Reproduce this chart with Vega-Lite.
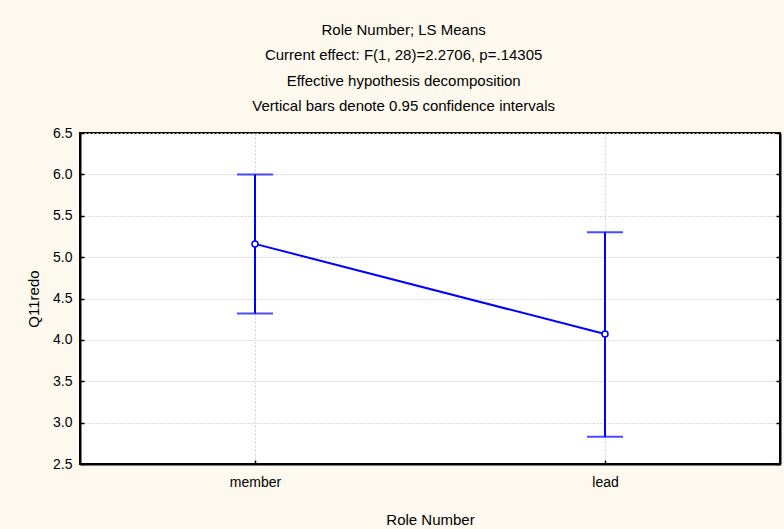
{
  "$schema": "https://vega.github.io/schema/vega-lite/v6.json",
  "width": 700,
  "height": 331,
  "autosize": {"type": "none"},
  "padding": {"left": 80, "top": 133, "right": 4, "bottom": 65},
  "background": "#fdf9ee",
  "config": {
    "font": "Liberation Sans",
    "view": {"stroke": "black", "strokeWidth": 2, "fill": "white"}
  },
  "title": {
    "text": [
      "Role Number; LS Means",
      "Current effect: F(1, 28)=2.2706, p=.14305",
      "Effective hypothesis decomposition",
      "Vertical bars denote 0.95 confidence intervals"
    ],
    "fontSize": 15,
    "fontWeight": "normal",
    "lineHeight": 25.5,
    "anchor": "middle",
    "frame": "bounds",
    "color": "black",
    "offset": 12
  },
  "data": {
    "values": [
      {"role": "member", "mean": 5.16, "lo": 4.32, "hi": 6.0},
      {"role": "lead", "mean": 4.07, "lo": 2.83, "hi": 5.3}
    ]
  },
  "encoding": {
    "x": {
      "field": "role",
      "type": "nominal",
      "sort": ["member", "lead"],
      "scale": {"type": "point", "padding": 0.5},
      "axis": {
        "title": "Role Number",
        "titleFontSize": 15,
        "titleFontWeight": "normal",
        "titleColor": "black",
        "titlePadding": 23,
        "labelFontSize": 14,
        "labelColor": "black",
        "labelAngle": 0,
        "labelPadding": 15,
        "domainColor": "black",
        "domainWidth": 2,
        "tickColor": "black",
        "tickSize": -4,
        "tickWidth": 1.5,
        "grid": true,
        "gridColor": "#cfcfcf",
        "gridDash": [2, 2],
        "gridWidth": 1
      }
    }
  },
  "resolve": {"axis": {"y": "independent"}},
  "layer": [
    {
      "mark": {"type": "rule", "color": "#0000ff", "strokeWidth": 2},
      "encoding": {
        "y": {
          "field": "lo",
          "type": "quantitative",
          "scale": {"domain": [2.5, 6.5], "nice": false, "zero": false},
          "axis": {
            "orient": "left",
            "title": "Q11redo",
            "titleFontSize": 15,
            "titleFontWeight": "normal",
            "titleColor": "black",
            "titlePadding": 11,
            "values": [2.5, 3, 3.5, 4, 4.5, 5, 5.5, 6, 6.5],
            "format": ".1f",
            "labelFontSize": 14,
            "labelColor": "black",
            "labelPadding": 12,
            "domainColor": "black",
            "domainWidth": 2,
            "tickColor": "black",
            "tickSize": -4,
            "tickWidth": 1.5,
            "grid": true,
            "gridColor": "#cfcfcf",
            "gridDash": [2, 2],
            "gridWidth": 1
          }
        },
        "y2": {"field": "hi"}
      }
    },
    {
      "mark": {"type": "tick", "color": "#0000ff", "thickness": 2, "size": 36},
      "encoding": {
        "y": {
          "field": "lo",
          "type": "quantitative",
          "axis": {
            "orient": "right",
            "title": null,
            "labels": false,
            "values": [2.5, 3, 3.5, 4, 4.5, 5, 5.5, 6, 6.5],
            "domainColor": "black",
            "domainWidth": 2,
            "tickColor": "black",
            "tickSize": -4,
            "tickWidth": 1.5,
            "grid": false
          }
        }
      }
    },
    {
      "mark": {"type": "tick", "color": "#0000ff", "thickness": 2, "size": 36},
      "encoding": {"y": {"field": "hi", "type": "quantitative", "axis": null}}
    },
    {
      "mark": {"type": "line", "color": "#0000ff", "strokeWidth": 2},
      "encoding": {"y": {"field": "mean", "type": "quantitative", "axis": null}}
    },
    {
      "mark": {"type": "point", "shape": "circle", "filled": true, "fill": "white", "stroke": "#0000ff", "strokeWidth": 1.5, "size": 36, "opacity": 1},
      "encoding": {"y": {"field": "mean", "type": "quantitative", "axis": null}}
    }
  ]
}
